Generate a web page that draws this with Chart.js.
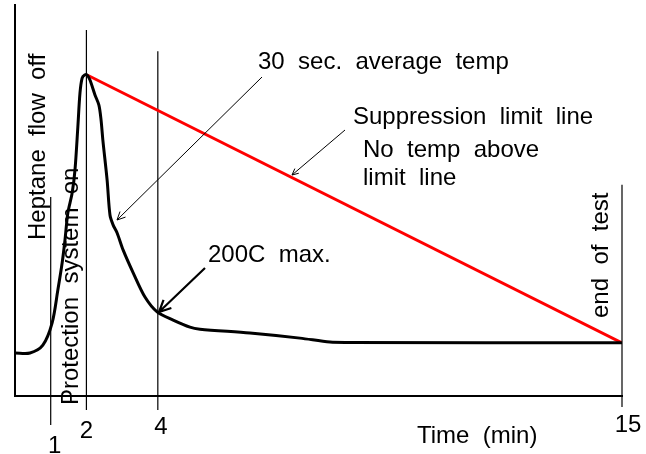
<!DOCTYPE html>
<html>
<head>
<meta charset="utf-8">
<script src="https://cdn.jsdelivr.net/npm/chart.js@4/dist/chart.umd.min.js"></script>
<style>
    html, body { margin: 0; background: #fff; }
    #chart1 { display: block; }
</style>
</head>
<body>
<canvas id="chart1" width="646" height="454"></canvas>
<script>
// time axis is drawn compressed after 4 min: axis position 17 carries the "15" label
const curveX = [0, 0.42, 0.78, 1.04, 1.2, 1.32, 1.4, 1.48, 1.6, 1.68, 1.76, 1.82, 1.88, 1.95, 2.02,
                2.1, 2.24, 2.35, 2.41, 2.46, 2.58, 2.66, 2.75, 2.86, 3.03, 3.31, 3.64, 3.98,
                4.43, 4.9, 5.18, 6.58, 7.98, 8.82, 9.38, 17];
const curveY = [11, 11, 13, 18.7, 27.1, 34, 39.9, 46.8, 51.9, 57.8, 68.8, 77.5, 81.3, 82.1, 82.1,
                80.8, 77, 74.4, 70.6, 65.5, 55.2, 46.3, 43.7, 41.7, 37.3, 31.5, 25.3, 21.5,
                19.4, 17.6, 17.1, 16.1, 14.8, 13.8, 13.7, 13.6];

const limitX = [2.02, 17];
const limitY = [82.1, 13.6];

// vertical marker lines (heptane off, protection on, 4 min, end of test)
const markerX = [1, 2, 4, 17];
const markerTop = [50.9, 93.6, 88.2, 54];
const markerBottom = [-7.4, -3.6, -3.6, -2.8];

const tickPositions = [1, 2, 4, 17];
const tickLabels = ["1", "2", "4", "15"];

function toPoints(xs, ys) {
    return xs.map((x, i) => ({ x: x, y: ys[i] }));
}

const markerSets = markerX.map((x, i) => ({
    data: [{ x: x, y: markerBottom[i] }, { x: x, y: markerTop[i] }],
    borderColor: "#000",
    borderWidth: 1.2,
    pointRadius: 0,
    clip: false
}));

const FONT = "24px 'Liberation Sans', Arial, sans-serif";

const annotations = {
    id: "annotations",
    afterDatasetsDraw(chart) {
        const ctx = chart.ctx;
        const xs = chart.scales.x;
        ctx.save();
        ctx.fillStyle = "#000";
        ctx.strokeStyle = "#000";
        ctx.font = FONT;
        ctx.textBaseline = "alphabetic";
        ctx.textAlign = "left";

        ctx.fillText("30  sec.  average  temp", 258, 69);
        ctx.fillText("Suppression  limit  line", 353, 124);
        ctx.fillText("No  temp  above", 363, 157);
        ctx.fillText("limit  line", 363, 185);
        ctx.fillText("200C  max.", 208, 262);
        ctx.fillText("Time  (min)", 417, 443);

        const vtext = [
            ["Heptane  flow  off", 45, 240],
            ["Protection  system  on", 78, 405],
            ["end  of  test", 608, 318]
        ];
        vtext.forEach(([t, x, y]) => {
            ctx.save();
            ctx.translate(x, y);
            ctx.rotate(-Math.PI / 2);
            ctx.fillText(t, 0, 0);
            ctx.restore();
        });

        // tick labels
        ctx.font = "24px 'Liberation Sans', Arial, sans-serif";
        ctx.textAlign = "center";
        const tickY = [453, 438, 434, 432];
        const tickDx = [4, 0, 3, 6];
        tickPositions.forEach((p, i) => {
            ctx.fillText(tickLabels[i], xs.getPixelForValue(p) + tickDx[i], tickY[i]);
        });

        // arrows
        const arrows = [
            [262, 77, 117, 220, 1, 9],
            [345, 130, 292, 175, 1, 7],
            [205, 268, 159, 312, 2.2, 13]
        ];
        arrows.forEach(([x1, y1, x2, y2, w, head]) => {
            const a = Math.atan2(y2 - y1, x2 - x1);
            ctx.lineWidth = w;
            ctx.beginPath();
            ctx.moveTo(x1, y1);
            ctx.lineTo(x2, y2);
            ctx.moveTo(x2 - head * Math.cos(a - 0.45), y2 - head * Math.sin(a - 0.45));
            ctx.lineTo(x2, y2);
            ctx.lineTo(x2 - head * Math.cos(a + 0.45), y2 - head * Math.sin(a + 0.45));
            ctx.stroke();
        });
        ctx.restore();
    }
};

new Chart(document.getElementById("chart1"), {
    type: "line",
    data: {
        datasets: [
            {
                data: toPoints(curveX, curveY),
                borderColor: "#000",
                borderWidth: 3,
                pointRadius: 0,
                tension: 0.3
            },
            {
                data: toPoints(limitX, limitY),
                borderColor: "#ff0000",
                borderWidth: 3,
                pointRadius: 0
            },
            ...markerSets
        ]
    },
    options: {
        responsive: false,
        animation: false,
        layout: { padding: { left: 15, right: 24, top: 5, bottom: 58 } },
        plugins: {
            legend: { display: false },
            tooltip: { enabled: false }
        },
        scales: {
            x: {
                type: "linear",
                min: 0,
                max: 17,
                ticks: { display: false },
                grid: { display: false, drawTicks: false },
                border: { display: true, color: "#000", width: 2 }
            },
            y: {
                min: 0,
                max: 100,
                ticks: { display: false },
                grid: { display: false, drawTicks: false },
                border: { display: true, color: "#000", width: 2 }
            }
        }
    },
    plugins: [annotations]
});
</script>
</body>
</html>
